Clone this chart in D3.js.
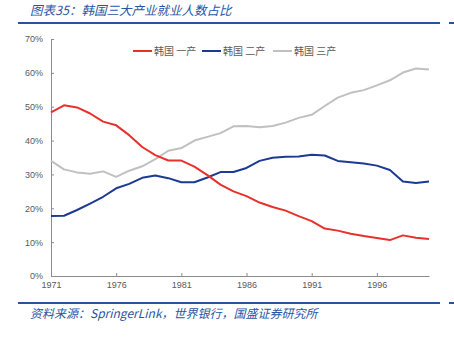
<!DOCTYPE html>
<html><head><meta charset="utf-8">
<script src="https://cdn.jsdelivr.net/npm/d3@7"></script>
<style>
html,body{margin:0;padding:0;background:#fff;}
svg{display:block;}
</style></head>
<body><svg id="c" width="454" height="340"></svg>
<script>
const years = d3.range(1971, 2001);
const xTicks = [1971, 1976, 1981, 1986, 1991, 1996];
const yTicks = [0, 10, 20, 30, 40, 50, 60, 70];
const seriesNames = ["韩国 一产", "韩国 二产", "韩国 三产"];
const primary = [48.3,50.4,49.8,48.0,45.6,44.5,41.6,38.1,35.7,34.1,34.1,32.3,29.8,27.0,25.0,23.6,21.7,20.4,19.3,17.7,16.2,14.0,13.4,12.5,11.8,11.2,10.6,12.0,11.3,10.9];
const secondary = [17.7,17.8,19.5,21.4,23.4,25.9,27.2,29.0,29.7,28.9,27.7,27.7,29.1,30.7,30.7,31.9,34.0,34.9,35.2,35.3,35.8,35.6,34.0,33.6,33.2,32.6,31.3,27.9,27.5,27.9];
const tertiary = [34.0,31.5,30.6,30.2,30.9,29.3,31.1,32.4,34.5,37.0,37.8,40.0,41.1,42.2,44.2,44.3,43.9,44.3,45.3,46.7,47.6,50.2,52.7,54.1,54.9,56.3,57.8,60.1,61.3,61.0];
const colors = ["#e8302c", "#1c3a92", "#c0c0c0"];

const svg = d3.select("#c");
const blue = "#2a52a0";
const txtFont = "'Noto Sans CJK SC', 'Noto Sans', sans-serif";

// title
svg.append("text").attr("x", 30).attr("y", 15)
  .attr("font-family", txtFont).attr("font-size", 12.5).attr("font-style", "italic")
  .attr("fill", "#2a55a5").text("图表35：韩国三大产业就业人数占比");
svg.append("line").attr("x1", 18).attr("x2", 440).attr("y1", 23).attr("y2", 23).attr("stroke", blue).attr("stroke-width", 2);
svg.append("line").attr("x1", 449).attr("x2", 454).attr("y1", 23).attr("y2", 23).attr("stroke", blue).attr("stroke-width", 2);

// footer
svg.append("line").attr("x1", 18).attr("x2", 440).attr("y1", 303).attr("y2", 303).attr("stroke", blue).attr("stroke-width", 2);
svg.append("line").attr("x1", 449).attr("x2", 454).attr("y1", 303).attr("y2", 303).attr("stroke", blue).attr("stroke-width", 2);
svg.append("text").attr("x", 30).attr("y", 318)
  .attr("font-family", txtFont).attr("font-size", 12).attr("font-style", "italic")
  .attr("fill", "#2a55a5").text("资料来源：SpringerLink，世界银行，国盛证券研究所");

const x = d3.scaleLinear().domain([1971, 2000]).range([51, 429]);
const y = d3.scaleLinear().domain([0, 70]).range([276, 39]);
const axisColor = "#8c8c8c";
const labelColor = "#595959";

const xAxis = svg.append("g").attr("transform", "translate(0,276)")
  .call(d3.axisBottom(x).tickValues(xTicks).tickFormat(d3.format("d")).tickSizeInner(-3).tickSizeOuter(0).tickPadding(6));
xAxis.select(".domain").attr("stroke", axisColor);
xAxis.selectAll(".tick line").attr("stroke", axisColor);
xAxis.selectAll("text").attr("fill", labelColor).attr("font-size", 9).attr("font-family", "'Liberation Sans', Arial, sans-serif");

const yAxis = svg.append("g").attr("transform", "translate(51,0)")
  .call(d3.axisLeft(y).tickValues(yTicks).tickFormat(d => d + "%").tickSizeInner(-3).tickSizeOuter(0).tickPadding(8));
yAxis.select(".domain").attr("stroke", axisColor);
yAxis.selectAll(".tick line").attr("stroke", axisColor);
yAxis.selectAll("text").attr("fill", labelColor).attr("font-size", 9).attr("font-family", "'Liberation Sans', Arial, sans-serif");

const series = [primary, secondary, tertiary];
const line = d3.line().x((d, i) => x(years[i])).y(d => y(d));
// draw gray first then blue then red
[2, 1, 0].forEach(k => {
  svg.append("path").datum(series[k]).attr("d", line)
    .attr("fill", "none").attr("stroke", colors[k]).attr("stroke-width", 2).attr("stroke-linejoin", "round");
});

// legend
const legX = [133, 202, 273];
seriesNames.forEach((n, k) => {
  svg.append("line").attr("x1", legX[k]).attr("x2", legX[k] + 19).attr("y1", 51).attr("y2", 51)
    .attr("stroke", colors[k]).attr("stroke-width", 2);
  svg.append("text").attr("x", legX[k] + 21).attr("y", 54.5)
    .attr("font-family", txtFont).attr("font-size", 10).attr("fill", labelColor).text(n);
});
</script>
</body></html>
